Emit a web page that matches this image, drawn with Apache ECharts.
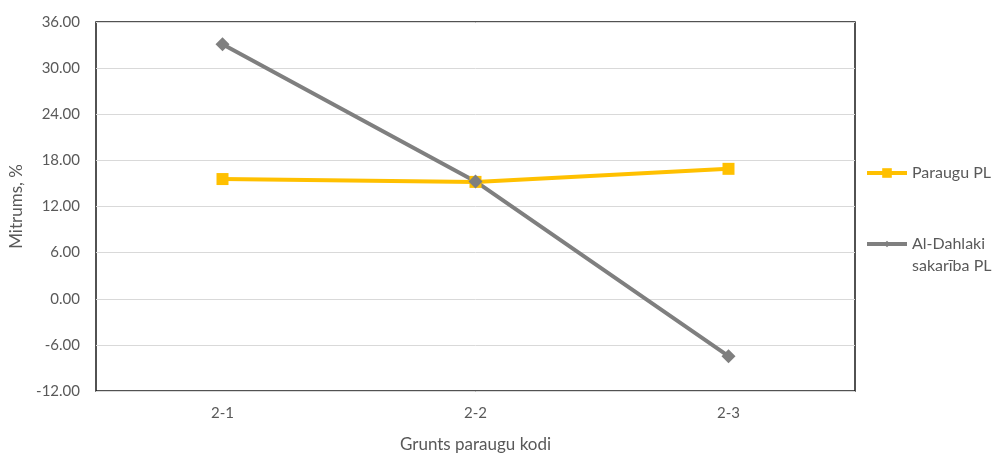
<!DOCTYPE html>
<html>
<head>
<meta charset="utf-8">
<script src="https://cdn.jsdelivr.net/npm/echarts@6/dist/echarts.min.js"></script>
<style>html,body{margin:0;padding:0;background:#fff}#c{width:992px;height:455px}</style>
</head>
<body>
<div id="c"></div>
<script>
var categories = ['2-1', '2-2', '2-3'];
var paraugu = [15.57, 15.2, 16.9];
var alDahlaki = [33.1, 15.26, -7.47];
var yMin = -12, yMax = 36, yStep = 6;

var FONT = 'Lato';
var TXT = '#595959';
var chart = echarts.init(document.getElementById('c'));
chart.setOption({
  animation: false,
  textStyle: { fontFamily: FONT },
  grid: { left: 96, right: 137, top: 22, bottom: 64, outerBoundsMode: 'none', containLabel: false,
    show: true, borderColor: '#1a1a1a', borderWidth: 1.5, backgroundColor: 'transparent' },
  legend: [
    { data: ['Paraugu PL'], orient: 'vertical', left: 865, top: 162, padding: 0, itemWidth: 40, itemHeight: 12, itemGap: 0,
      lineStyle: { width: 4 },
      textStyle: { fontFamily: FONT, fontSize: 16, color: TXT, lineHeight: 22 } },
    { data: ['Al-Dahlaki sakarība PL'], orient: 'vertical', left: 865, top: 211, padding: 0, itemWidth: 40, itemHeight: 8, itemGap: 0,
      lineStyle: { width: 4 },
      formatter: function () { return ' \nAl-Dahlaki\nsakarība PL'; },
      textStyle: { fontFamily: FONT, fontSize: 16, color: TXT, lineHeight: 22 } }
  ],
  xAxis: {
    type: 'category', data: categories, boundaryGap: true,
    axisLine: { show: false }, axisTick: { show: false },
    axisLabel: { color: TXT, fontSize: 15, fontFamily: FONT, margin: 15 },
    name: 'Grunts paraugu kodi', nameLocation: 'middle', nameGap: 45,
    nameTextStyle: { color: TXT, fontSize: 17, fontFamily: FONT }
  },
  yAxis: {
    type: 'value', min: yMin, max: yMax, interval: yStep,
    axisLine: { show: false }, axisTick: { show: false },
    splitLine: { lineStyle: { color: '#d9d9d9', width: 1 } },
    axisLabel: { color: TXT, fontSize: 15, fontFamily: FONT, margin: 16, formatter: function (v) { return v.toFixed(2); } },
    name: 'Mitrums, %', nameLocation: 'middle', nameGap: 68, nameRotate: 90,
    nameTextStyle: { color: TXT, fontSize: 17, fontFamily: FONT }
  },
  series: [
    { name: 'Paraugu PL', type: 'line', data: paraugu, symbol: 'rect', symbolSize: 12,
      lineStyle: { color: '#FFC000', width: 4 }, itemStyle: { color: '#FFC000' } },
    { name: 'Al-Dahlaki sakarība PL', type: 'line', data: alDahlaki, symbol: 'diamond', symbolSize: 14,
      lineStyle: { color: '#7F7F7F', width: 4 }, itemStyle: { color: '#7F7F7F' } }
  ]
});
</script>
</body>
</html>
